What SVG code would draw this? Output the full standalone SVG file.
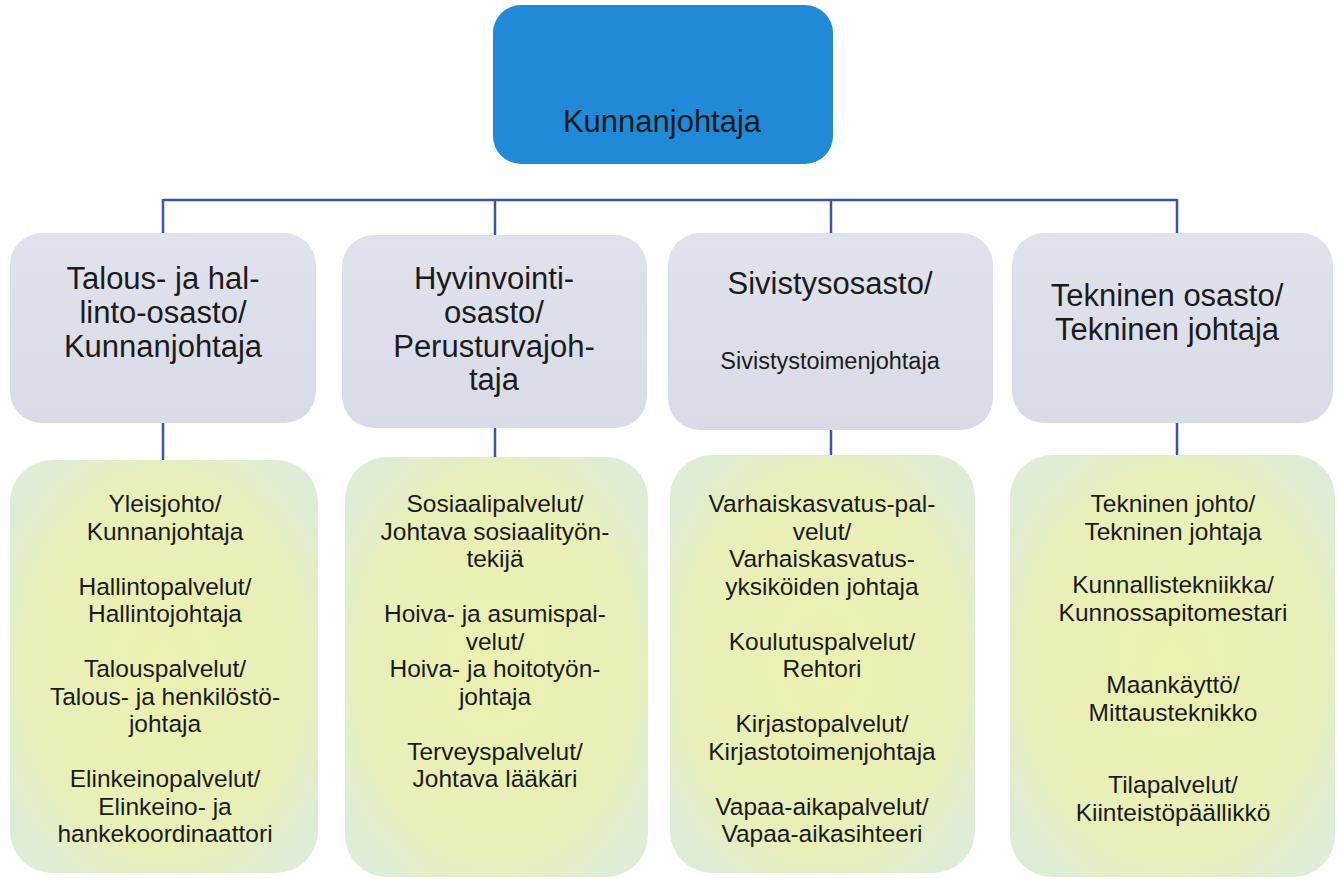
<svg xmlns="http://www.w3.org/2000/svg" width="1338" height="879" viewBox="0 0 1338 879">
<defs>
<radialGradient id="gGreen" cx="50%" cy="50%" r="60%">
<stop offset="0" stop-color="#ecf0b0"/>
<stop offset="0.75" stop-color="#e8efb9"/>
<stop offset="1" stop-color="#dfedd6"/>
</radialGradient>
<linearGradient id="gGray" x1="0" y1="0" x2="0" y2="1">
<stop offset="0" stop-color="#e0e2ec"/>
<stop offset="1" stop-color="#d9dce7"/>
</linearGradient>
</defs>
<style>
text{font-family:"Liberation Sans",Arial,sans-serif;fill:#1b1b1b;text-anchor:middle}
.top{fill:#2089d8}
.mid{fill:url(#gGray)}
.bot{fill:url(#gGreen)}
.t1{font-size:31px}
.t2{font-size:24.5px}
.t3{font-size:23.5px}
.conn line{stroke:#3a55a8;stroke-width:2.5;fill:none}
</style>
<rect width="1338" height="879" fill="#ffffff"/>
<g class="conn" id="connectors">
<line x1="163" y1="200" x2="1177" y2="200"/>
<line x1="163" y1="199" x2="163" y2="234"/>
<line x1="495" y1="199" x2="495" y2="236"/>
<line x1="831" y1="199" x2="831" y2="234"/>
<line x1="1177" y1="199" x2="1177" y2="234"/>
<line x1="163" y1="422" x2="163" y2="461"/>
<line x1="495" y1="427" x2="495" y2="458"/>
<line x1="831" y1="429" x2="831" y2="456"/>
<line x1="1177" y1="422" x2="1177" y2="456"/>
</g>
<g id="n-top">
<rect class="top" x="493" y="5" width="340" height="159" rx="28"/>
<text class="t1" x="662" y="132">Kunnanjohtaja</text>
</g>
<g id="n-talous">
<rect class="mid" x="10" y="233" width="306" height="190" rx="32"/>
<text class="t1" x="163"><tspan x="163" y="289">Talous- ja hal-</tspan><tspan x="163" y="323">linto-osasto/</tspan><tspan x="163" y="357">Kunnanjohtaja</tspan></text>
</g>
<g id="n-hyvinvointi">
<rect class="mid" x="342" y="235" width="305" height="193" rx="32"/>
<text class="t1" x="494"><tspan x="494" y="289">Hyvinvointi-</tspan><tspan x="494" y="323">osasto/</tspan><tspan x="494" y="357">Perusturvajoh-</tspan><tspan x="494" y="390">taja</tspan></text>
</g>
<g id="n-sivistys">
<rect class="mid" x="668" y="233" width="325" height="197" rx="32"/>
<text class="t1" x="830" y="294">Sivistysosasto/</text>
<text class="t3" x="830" y="369">Sivistystoimenjohtaja</text>
</g>
<g id="n-tekninen">
<rect class="mid" x="1012" y="233" width="321" height="190" rx="32"/>
<text class="t1" x="1167"><tspan x="1167" y="306">Tekninen osasto/</tspan><tspan x="1167" y="340">Tekninen johtaja</tspan></text>
</g>
<g id="n-talous-yksikot">
<rect class="bot" x="10" y="460" width="308" height="413" rx="42"/>
<text class="t2"><tspan x="165" y="512">Yleisjohto/</tspan><tspan x="165" y="539.5">Kunnanjohtaja</tspan><tspan x="165" y="594.5">Hallintopalvelut/</tspan><tspan x="165" y="622">Hallintojohtaja</tspan><tspan x="165" y="677">Talouspalvelut/</tspan><tspan x="165" y="704.5">Talous- ja henkilöstö-</tspan><tspan x="165" y="732">johtaja</tspan><tspan x="165" y="787">Elinkeinopalvelut/</tspan><tspan x="165" y="814.5">Elinkeino- ja</tspan><tspan x="165" y="842">hankekoordinaattori</tspan></text>
</g>
<g id="n-hyvinvointi-yksikot">
<rect class="bot" x="345" y="457" width="303" height="420" rx="42"/>
<text class="t2"><tspan x="495" y="512">Sosiaalipalvelut/</tspan><tspan x="495" y="539.5">Johtava sosiaalityön-</tspan><tspan x="495" y="567">tekijä</tspan><tspan x="495" y="622">Hoiva- ja asumispal-</tspan><tspan x="495" y="649.5">velut/</tspan><tspan x="495" y="677">Hoiva- ja hoitotyön-</tspan><tspan x="495" y="704.5">johtaja</tspan><tspan x="495" y="759.5">Terveyspalvelut/</tspan><tspan x="495" y="787">Johtava lääkäri</tspan></text>
</g>
<g id="n-sivistys-yksikot">
<rect class="bot" x="670" y="455" width="305" height="418" rx="42"/>
<text class="t2"><tspan x="822" y="512">Varhaiskasvatus-pal-</tspan><tspan x="822" y="539.5">velut/</tspan><tspan x="822" y="567">Varhaiskasvatus-</tspan><tspan x="822" y="594.5">yksiköiden johtaja</tspan><tspan x="822" y="649.5">Koulutuspalvelut/</tspan><tspan x="822" y="677">Rehtori</tspan><tspan x="822" y="732">Kirjastopalvelut/</tspan><tspan x="822" y="759.5">Kirjastotoimenjohtaja</tspan><tspan x="822" y="814.5">Vapaa-aikapalvelut/</tspan><tspan x="822" y="842">Vapaa-aikasihteeri</tspan></text>
</g>
<g id="n-tekninen-yksikot">
<rect class="bot" x="1010" y="455" width="325" height="422" rx="42"/>
<text class="t2"><tspan x="1173" y="512">Tekninen johto/</tspan><tspan x="1173" y="540">Tekninen johtaja</tspan><tspan x="1173" y="593">Kunnallistekniikka/</tspan><tspan x="1173" y="621">Kunnossapitomestari</tspan><tspan x="1173" y="693">Maankäyttö/</tspan><tspan x="1173" y="721">Mittausteknikko</tspan><tspan x="1173" y="793">Tilapalvelut/</tspan><tspan x="1173" y="821">Kiinteistöpäällikkö</tspan></text>
</g>
</svg>
